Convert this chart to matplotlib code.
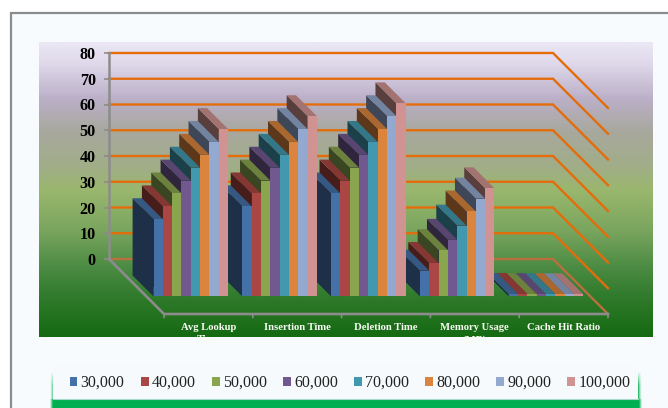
import numpy as np
import matplotlib
matplotlib.use("Agg")
import matplotlib.pyplot as plt
from matplotlib.colors import LinearSegmentedColormap, to_rgb
from matplotlib.patches import Patch, Polygon, Rectangle

plt.rcParams['font.family'] = ['Liberation Serif', 'DejaVu Serif']

# ---- data ----
categories = ["Avg Lookup\nTime", "Insertion Time", "Deletion Time", "Memory Usage\n(MB)", "Cache Hit Ratio"]
series_names = ["30,000", "40,000", "50,000", "60,000", "70,000", "80,000", "90,000", "100,000"]
avg_lookup = [30, 35, 40, 45, 50, 55, 60, 65]
insertion = [35, 40, 45, 50, 55, 60, 65, 70]
deletion = [40, 45, 50, 55, 60, 65, 70, 75]
memory = [10, 13, 18, 22, 27.5, 33, 38, 42]
cache_hit = [0.95, 0.95, 0.9, 0.9, 0.9, 0.9, 0.85, 0.85]
y_ticks = [0, 10, 20, 30, 40, 50, 60, 70, 80]
series_colors = ["#4472a8", "#aa4643", "#89a54e", "#71588f", "#4198af", "#db843d", "#93a9cf", "#d19392"]

values = np.array([avg_lookup, insertion, deletion, memory, cache_hit], dtype=float)

W, H = 668, 408
fig = plt.figure(figsize=(W / 100, H / 100), dpi=100, facecolor="white")

# ---- background layer in pixel space ----
bg = fig.add_axes([0, 0, 1, 1], zorder=0)
bg.axis("off")
bg.add_patch(Rectangle((10.5, 13), W, H, fc="#f7fbfd", ec="#8c8c8c", lw=1.6))
cmap = LinearSegmentedColormap.from_list("wall", [
    (0.00, "#ebe7f4"), (0.07, "#dfd8ea"), (0.19, "#bbb0c8"), (0.30, "#a8a89e"),
    (0.42, "#a1ad88"), (0.50, "#9ab76e"), (0.64, "#7aa55e"), (0.77, "#4a8a42"),
    (0.87, "#2f7a2b"), (1.00, "#156a12")])
bg.imshow(np.linspace(0, 1, 300)[:, None], cmap=cmap, extent=(39, 653, 337, 42), aspect="auto", zorder=1)
# soft green glow under the legend box
gx = np.arange(44, 650)[None, :] + 0.5
gy = np.arange(362, 408)[:, None] + 0.5
glow = (np.clip((gx - 50) / 4, 0, 1) ** 1.5 * np.clip((642 - gx) / 4, 0, 1) ** 1.5
        * np.clip((gy - 372) / 14, 0, 1) ** 0.8)
glow[gy[:, 0] > 399, :] = (np.clip((gx - 50) / 3, 0, 1) * np.clip((642 - gx) / 3, 0, 1))[0]
rgba = np.zeros(glow.shape + (4,))
rgba[..., :3] = to_rgb("#00b050")
rgba[..., 3] = glow
bg.imshow(rgba, extent=(44, 650, 408, 362), aspect="auto", zorder=2, interpolation="nearest")
bg.add_patch(Rectangle((53, 366), 585, 33, fc="#f6fafc", ec="none", zorder=3))
bg.plot([53, 638], [399, 399], color="#a9d8cd", lw=0.8, zorder=4)
bg.set_xlim(0, W)
bg.set_ylim(H, 0)

# ---- chart axes: the back wall ----
left, right, top, bottom = 109, 553, 53, 259
ax = fig.add_axes([left / W, 1 - bottom / H, (right - left) / W, (bottom - top) / H], zorder=2)
ax.patch.set_visible(False)
ax.set_xlim(0, len(categories))
ax.set_ylim(0, 80)
px_x = (right - left) / len(categories)
px_y = (bottom - top) / 80
DEPTH_PX = 55
DX, DV = DEPTH_PX / px_x, DEPTH_PX / px_y


def project(x, v, d):
    """Wall coordinates (category, value) pushed d of the way toward the viewer."""
    return x + d * DX, v - d * DV


grid_color = "#e46c0a"
for s in ("top", "right", "bottom"):
    ax.spines[s].set_visible(False)
ax.spines["left"].set_color("#8c8c8c")
ax.spines["left"].set_linewidth(1.8)
ax.set_xticks([])
ax.set_yticks(y_ticks)
ax.set_yticklabels([str(t) for t in y_ticks], fontsize=11.6, fontweight="bold", color="black")
ax.tick_params(axis="y", length=3.5, width=1.2, color="#8c8c8c", pad=6)
n_cat = len(categories)
for t in y_ticks:
    c = "#b8703f" if t == 0 else grid_color
    xs = [0, n_cat, project(n_cat, t, 1)[0]]
    ys = [t, t, project(n_cat, t, 1)[1]]
    ax.plot(xs, ys, color=c, lw=1.7, clip_on=False, zorder=1, solid_joinstyle="miter")

# floor edges
fx0, fv0 = project(0, 0, 1)
fx1, fv1 = project(n_cat, 0, 1)
ax.plot([0, fx0, fx1], [0, fv0, fv1], color="#8c8c8c", lw=1.9, clip_on=False, zorder=2)
for c in range(n_cat + 1):
    x, v = project(c, 0, 1)
    ax.annotate("", xy=(x, v), xycoords="data", xytext=(x, v - 1.4), textcoords="data",
                arrowprops=dict(arrowstyle="-", color="#8c8c8c", lw=1.2, shrinkA=0, shrinkB=0),
                annotation_clip=False, zorder=2)
    if c < n_cat:
        lx, lv = project(c + 0.5, 0, 1)
        ax.annotate(categories[c], xy=(lx, lv), xytext=(0, -6.8), textcoords="offset points",
                    ha="center", va="top", fontsize=7.7, fontweight="bold", color="#f8fbf4",
                    linespacing=1.38, annotation_clip=False, zorder=6)


def shade(col, f):
    return tuple(np.array(to_rgb(col)) * f)


# ---- bars, far right first so nearer (left) bars cover them ----
n_ser = len(series_names)
gap = 0.16
bw = (1 - gap) / n_ser
d_back, d_front = 0.30, 0.68
z = 3.0
for c in range(n_cat - 1, -1, -1):
    for j in range(n_ser - 1, -1, -1):
        val = values[c, j]
        x0 = c + gap / 2 + j * bw
        x1 = x0 + bw
        col = series_colors[j]
        side = [project(x0, 0, d_front), project(x0, val, d_front), project(x0, val, d_back), project(x0, 0, d_back)]
        topf = [project(x0, val, d_front), project(x1, val, d_front), project(x1, val, d_back), project(x0, val, d_back)]
        front = [project(x0, 0, d_front), project(x1, 0, d_front), project(x1, val, d_front), project(x0, val, d_front)]
        for pts, fc in ((side, shade(col, 0.42)), (topf, shade(col, 0.78)), (front, col)):
            ax.add_patch(Polygon(pts, closed=True, fc=fc, ec="none", clip_on=False, zorder=z))
            z += 0.001

# ---- legend ----
handles = [Patch(fc=c, ec="none") for c in series_colors]
leg = fig.legend(handles, series_names, loc="center left", bbox_to_anchor=(69.5 / W, 1 - 383 / H),
                 bbox_transform=fig.transFigure, ncol=n_ser, frameon=False, fontsize=11.5,
                 handlelength=0.5, handleheight=0.5, handletextpad=0.2, columnspacing=1.0,
                 borderpad=0, borderaxespad=0, labelcolor="#222222")
leg.set_zorder(5)

fig.savefig("out.png", dpi=100)
